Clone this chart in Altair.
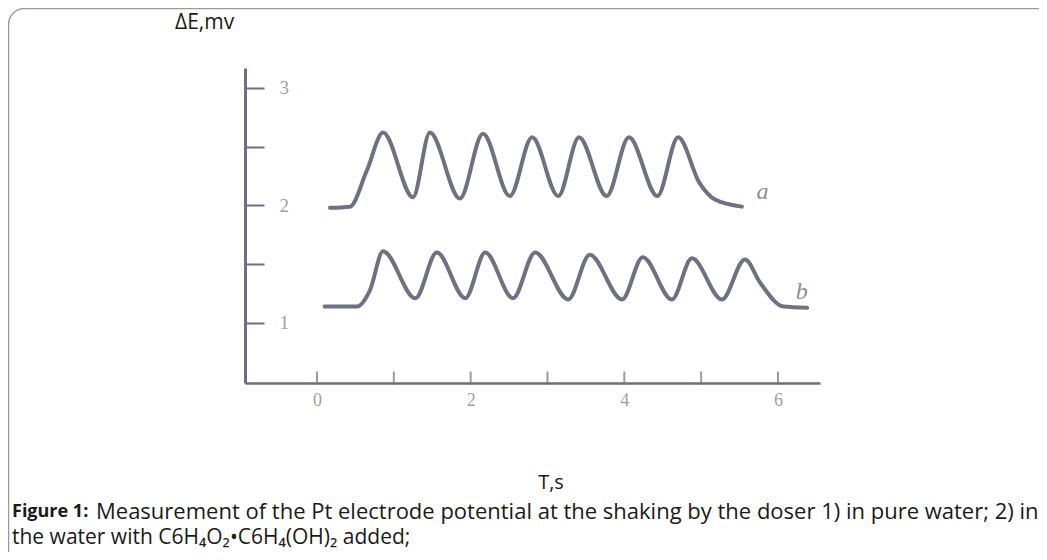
import altair as alt
import pandas as pd

# ---- data ----
a_t = [0.17, 0.43, 0.65, 0.86, 1.25, 1.47, 1.86, 2.16, 2.51, 2.80, 3.14, 3.41, 3.77, 4.06, 4.43, 4.70, 4.98, 5.18, 5.53]
a_v = [1.98, 1.99, 2.30, 2.62, 2.07, 2.62, 2.06, 2.61, 2.08, 2.58, 2.08, 2.58, 2.08, 2.58, 2.08, 2.58, 2.19, 2.05, 1.99]

b_t = [0.10, 0.52, 0.69, 0.86, 1.28, 1.56, 1.93, 2.19, 2.55, 2.84, 3.27, 3.55, 3.97, 4.24, 4.62, 4.88, 5.27, 5.57, 5.77, 6.07, 6.38]
b_v = [1.14, 1.14, 1.28, 1.61, 1.21, 1.60, 1.21, 1.60, 1.21, 1.60, 1.20, 1.58, 1.20, 1.56, 1.20, 1.55, 1.20, 1.54, 1.34, 1.14, 1.13]

x_ticks = [0, 1, 2, 3, 4, 5, 6]
x_labels = [0, 2, 4, 6]
y_ticks = [1, 1.5, 2, 2.5, 3]

curve_names = ["a", "b"]
curve_label_t = [5.80, 6.31]
curve_label_v = [2.115, 1.264]

y_title = "ΔE,mv"
x_title = "T,s"
caption_bold = "Figure 1:"
caption_1 = "Measurement of the Pt electrode potential at the shaking by the doser 1) in pure water; 2) in"
caption_2 = "the water with C6H₄O₂•C6H₄(OH)₂ added;"

W, H = 575, 315
AX = "#6d6f7e"
LINE = "#6f7082"

df = pd.DataFrame({
    "t": a_t + b_t,
    "v": a_v + b_v,
    "curve": ["a"] * len(a_t) + ["b"] * len(b_t),
})

xs = alt.Scale(domain=[-0.937, 6.547], nice=False, zero=False)
ys = alt.Scale(domain=[0.489, 3.170], nice=False, zero=False)

lines = alt.Chart(df).mark_line(
    interpolate="monotone", strokeWidth=4, color=LINE, strokeCap="round"
).encode(
    x=alt.X("t:Q", scale=xs, axis=alt.Axis(
        values=x_labels, ticks=False, tickSize=0, grid=False, title=None,
        domainColor=AX, domainWidth=2.5, labelFont="Liberation Serif",
        labelExpr="format(datum.value, 'd')",
        labelFontSize=18, labelColor="#a0a0a0", labelPadding=8)),
    y=alt.Y("v:Q", scale=ys, axis=alt.Axis(
        orient="right", offset=-W, values=y_ticks, tickSize=19, tickWidth=2,
        tickColor=AX, domainColor=AX, domainWidth=3, grid=False, title=None,
        labelExpr="datum.value % 1 == 0 ? format(datum.value, 'd') : ''",
        labelFont="Liberation Serif", labelFontSize=19, labelColor="#a0a0a0",
        labelPadding=15)),
    detail="curve:N",
)

xt = alt.Chart(pd.DataFrame({"t": x_ticks})).mark_tick(
    orient="vertical", size=13, thickness=2, color=AX
).encode(x=alt.X("t:Q", scale=xs), y=alt.value(H - 5))

lab = alt.Chart(pd.DataFrame({"t": curve_label_t, "v": curve_label_v, "n": curve_names})).mark_text(
    font="Liberation Serif", fontStyle="italic", fontSize=24, color="#8a8c99"
).encode(x=alt.X("t:Q", scale=xs), y=alt.Y("v:Q", scale=ys), text="n:N")

border = alt.Chart(pd.DataFrame({"k": [0]})).mark_rect(
    filled=False, stroke="#9a9a9a", strokeWidth=1.5, cornerRadius=16
).encode(x=alt.value(-236.5), x2=alt.value(900), y=alt.value(-59.5), y2=alt.value(520))

def txt(s, x, y, size=18, weight="normal", align="left", color="#222222", font="Open Sans"):
    return alt.Chart(pd.DataFrame({"s": [s]})).mark_text(
        align=align, baseline="middle", fontSize=size, fontWeight=weight, color=color, font=font
    ).encode(x=alt.value(x), y=alt.value(y), text="s:N")

texts = [
    txt(y_title, -70, -45, size=21, color="#1a1a1a"),
    txt(x_title, 306, 415, size=20, align="center", color="#1a1a1a"),
    txt(caption_bold, -233, 444, size=18, weight="bold", color="#1a1a1a"),
    txt(caption_1, -149, 444, size=22, color="#1a1a1a"),
    txt(caption_2, -233, 470, size=21, color="#1a1a1a"),
]

chart = alt.layer(border, lines, xt, lab, *texts).properties(
    width=W, height=H,
    autosize=alt.AutoSizeParams(type="none"),
    padding={"left": 237, "top": 60, "right": 219, "bottom": 169},
).configure_view(stroke=None)

chart.save("out.html", embed_options={"renderer": "svg", "actions": False})
